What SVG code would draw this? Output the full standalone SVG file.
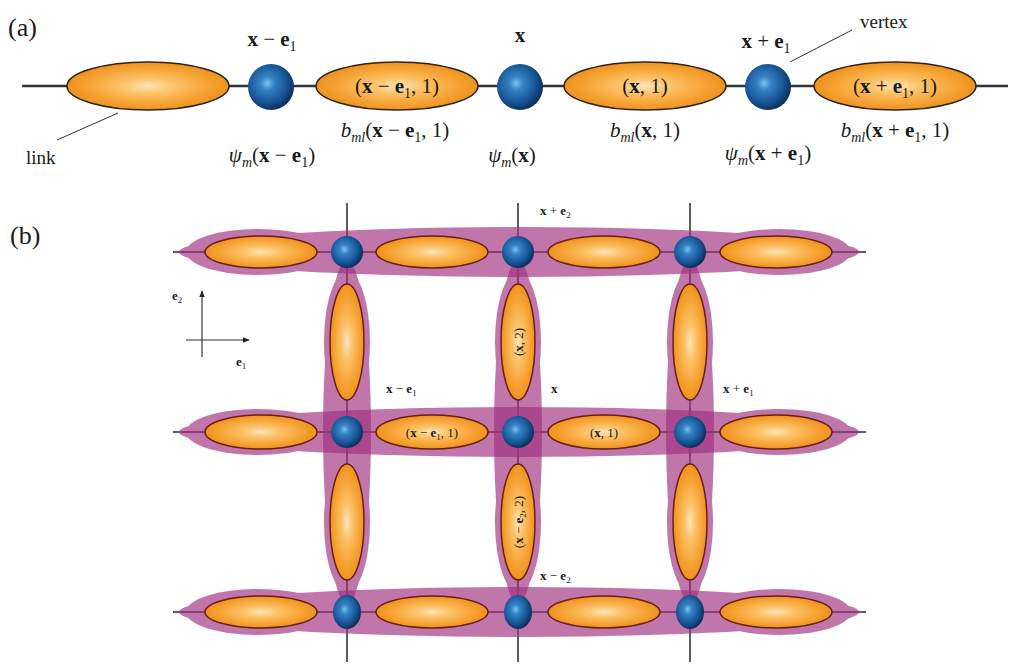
<svg xmlns="http://www.w3.org/2000/svg" width="1025" height="669" viewBox="0 0 1025 669">
<defs>
<radialGradient id="sph" cx="0.42" cy="0.42" r="0.6">
<stop offset="0" stop-color="#7cc2f0"/>
<stop offset="0.25" stop-color="#3682c4"/>
<stop offset="0.7" stop-color="#165596"/>
<stop offset="1" stop-color="#0a2d5a"/>
</radialGradient>
<radialGradient id="org" cx="0.5" cy="0.5" r="0.5">
<stop offset="0" stop-color="#ffe6bd"/>
<stop offset="0.3" stop-color="#fcc46c"/>
<stop offset="0.7" stop-color="#f7a638"/>
<stop offset="1" stop-color="#ee921e"/>
</radialGradient>
<marker id="arr" viewBox="0 0 10 10" refX="9" refY="5" markerWidth="6" markerHeight="6" orient="auto">
<path d="M0,1 L10,5 L0,9 Z" fill="#222"/>
</marker>
<style>
.t{font-family:"Liberation Serif","DejaVu Serif",serif;fill:#1a1a1a}
.a{font-size:21px}
.s{font-size:13px}
.bd{font-weight:bold}
.it{font-style:italic}
.sb{font-size:14px}
.sbs{font-size:9px}
.lnk{fill:url(#org);stroke:#2e2216;stroke-width:1.5}
.lnkb{fill:url(#org);stroke:#6a1e12;stroke-width:1.5}
.sp{fill:url(#sph)}
.wire{stroke:#333;stroke-width:2.5;fill:none}
.wireb{stroke:#2a2a2a;stroke-width:1.5;fill:none}
.lead{stroke:#333;stroke-width:1;fill:none}
.band{fill:#a0307f}
.bg{opacity:0.66}
</style>
</defs>
<rect width="1025" height="669" fill="#fff"/>

<!-- Part labels -->
<text class="t" x="8" y="36" font-size="26">(a)</text>
<text class="t" x="10" y="244" font-size="26">(b)</text>

<!-- connectors -->
<g id="connectors">
<line class="wire" x1="22" y1="86" x2="1008" y2="86"/>
<line class="lead" x1="57" y1="140" x2="118" y2="113"/>
<line class="lead" x1="790" y1="62" x2="852" y2="30"/>
<line class="wireb" x1="173" y1="252" x2="866" y2="252"/>
<line class="wireb" x1="173" y1="432" x2="866" y2="432"/>
<line class="wireb" x1="173" y1="612" x2="866" y2="612"/>
<line class="wireb" x1="347" y1="203" x2="347" y2="662"/>
<line class="wireb" x1="518" y1="203" x2="518" y2="662"/>
<line class="wireb" x1="690" y1="203" x2="690" y2="662"/>
<line x1="202" y1="357" x2="202" y2="291" stroke="#333" stroke-width="1.2" marker-end="url(#arr)"/>
<line x1="186" y1="340" x2="249" y2="340" stroke="#333" stroke-width="1.2" marker-end="url(#arr)"/>
</g>

<!-- Part (a) nodes -->
<g id="a-link0"><ellipse class="lnk" cx="148" cy="86" rx="81" ry="24"/></g>
<g id="a-vertex-xm"><circle class="sp" cx="271" cy="87" r="23"/></g>
<g id="a-link-xm"><ellipse class="lnk" cx="397" cy="86" rx="81" ry="24"/>
<text class="t a" x="397" y="93" text-anchor="middle">(<tspan class="bd">x</tspan> − <tspan class="bd">e</tspan><tspan class="sb" dy="5">1</tspan><tspan dy="-5">, 1)</tspan></text></g>
<g id="a-vertex-x"><circle class="sp" cx="520" cy="87" r="23"/></g>
<g id="a-link-x"><ellipse class="lnk" cx="645" cy="86" rx="81" ry="24"/>
<text class="t a" x="645" y="93" text-anchor="middle">(<tspan class="bd">x</tspan>, 1)</text></g>
<g id="a-vertex-xp"><circle class="sp" cx="768" cy="87" r="23"/></g>
<g id="a-link-xp"><ellipse class="lnk" cx="895" cy="86" rx="81" ry="24"/>
<text class="t a" x="895" y="93" text-anchor="middle">(<tspan class="bd">x</tspan> + <tspan class="bd">e</tspan><tspan class="sb" dy="5">1</tspan><tspan dy="-5">, 1)</tspan></text></g>

<!-- Part (a) labels -->
<g id="a-labels">
<text class="t a" x="272" y="46" text-anchor="middle"><tspan class="bd">x</tspan> − <tspan class="bd">e</tspan><tspan class="sb" dy="5">1</tspan></text>
<text class="t a" x="520" y="42" text-anchor="middle"><tspan class="bd">x</tspan></text>
<text class="t a" x="766" y="48" text-anchor="middle"><tspan class="bd">x</tspan> + <tspan class="bd">e</tspan><tspan class="sb" dy="5">1</tspan></text>
<text class="t" x="860" y="28" font-size="19">vertex</text>
<text class="t" x="26" y="164" font-size="19">link</text>
<text class="t a" x="395" y="137" text-anchor="middle"><tspan class="it">b</tspan><tspan class="sb it" dy="5">ml</tspan><tspan dy="-5">(</tspan><tspan class="bd">x</tspan> − <tspan class="bd">e</tspan><tspan class="sb" dy="5">1</tspan><tspan dy="-5">, 1)</tspan></text>
<text class="t a" x="272" y="162" text-anchor="middle"><tspan class="it">ψ</tspan><tspan class="sb it" dy="5">m</tspan><tspan dy="-5">(</tspan><tspan class="bd">x</tspan> − <tspan class="bd">e</tspan><tspan class="sb" dy="5">1</tspan><tspan dy="-5">)</tspan></text>
<text class="t a" x="512" y="162" text-anchor="middle"><tspan class="it">ψ</tspan><tspan class="sb it" dy="5">m</tspan><tspan dy="-5">(</tspan><tspan class="bd">x</tspan>)</text>
<text class="t a" x="645" y="137" text-anchor="middle"><tspan class="it">b</tspan><tspan class="sb it" dy="5">ml</tspan><tspan dy="-5">(</tspan><tspan class="bd">x</tspan>, 1)</text>
<text class="t a" x="768" y="160" text-anchor="middle"><tspan class="it">ψ</tspan><tspan class="sb it" dy="5">m</tspan><tspan dy="-5">(</tspan><tspan class="bd">x</tspan> + <tspan class="bd">e</tspan><tspan class="sb" dy="5">1</tspan><tspan dy="-5">)</tspan></text>
<text class="t a" x="895" y="137" text-anchor="middle"><tspan class="it">b</tspan><tspan class="sb it" dy="5">ml</tspan><tspan dy="-5">(</tspan><tspan class="bd">x</tspan> + <tspan class="bd">e</tspan><tspan class="sb" dy="5">1</tspan><tspan dy="-5">, 1)</tspan></text>
</g>

<!-- Part (b) bands -->
<g id="bands-h">
<g class="bg">
<ellipse class="band" cx="519" cy="252" rx="340" ry="25"/>
<ellipse class="band" cx="258" cy="252" rx="72" ry="23"/>
<ellipse class="band" cx="779" cy="252" rx="72" ry="23"/>
</g>
<g class="bg">
<ellipse class="band" cx="519" cy="432" rx="340" ry="25"/>
<ellipse class="band" cx="258" cy="432" rx="72" ry="23"/>
<ellipse class="band" cx="779" cy="432" rx="72" ry="23"/>
</g>
<g class="bg">
<ellipse class="band" cx="519" cy="612" rx="340" ry="25"/>
<ellipse class="band" cx="258" cy="612" rx="72" ry="23"/>
<ellipse class="band" cx="779" cy="612" rx="72" ry="23"/>
</g>
</g>
<g id="bands-v">
<g class="bg">
<ellipse class="band" cx="347" cy="432" rx="24" ry="172"/>
<ellipse class="band" cx="347" cy="342" rx="23" ry="70"/>
<ellipse class="band" cx="347" cy="522" rx="23" ry="70"/>
</g>
<g class="bg">
<ellipse class="band" cx="518" cy="432" rx="24" ry="172"/>
<ellipse class="band" cx="518" cy="342" rx="23" ry="70"/>
<ellipse class="band" cx="518" cy="522" rx="23" ry="70"/>
</g>
<g class="bg">
<ellipse class="band" cx="690" cy="432" rx="24" ry="172"/>
<ellipse class="band" cx="690" cy="342" rx="23" ry="70"/>
<ellipse class="band" cx="690" cy="522" rx="23" ry="70"/>
</g>
</g>

<!-- Part (b) horizontal links -->
<g id="b-h-links">
<ellipse class="lnkb" cx="261" cy="252" rx="56" ry="16"/>
<ellipse class="lnkb" cx="432" cy="252" rx="56" ry="16"/>
<ellipse class="lnkb" cx="604" cy="252" rx="56" ry="16"/>
<ellipse class="lnkb" cx="776" cy="252" rx="56" ry="16"/>
<ellipse class="lnkb" cx="261" cy="432" rx="56" ry="17"/>
<ellipse class="lnkb" cx="776" cy="432" rx="56" ry="17"/>
<ellipse class="lnkb" cx="261" cy="612" rx="56" ry="16"/>
<ellipse class="lnkb" cx="432" cy="612" rx="56" ry="16"/>
<ellipse class="lnkb" cx="604" cy="612" rx="56" ry="16"/>
<ellipse class="lnkb" cx="776" cy="612" rx="56" ry="16"/>
</g>
<g id="b-link-xm1">
<ellipse class="lnkb" cx="432" cy="432" rx="56" ry="17"/>
<text class="t s" x="432" y="437" text-anchor="middle">(<tspan class="bd">x</tspan> − <tspan class="bd">e</tspan><tspan class="sbs" dy="3">1</tspan><tspan dy="-3">, 1)</tspan></text>
</g>
<g id="b-link-x1">
<ellipse class="lnkb" cx="604" cy="432" rx="56" ry="17"/>
<text class="t s" x="604" y="437" text-anchor="middle">(<tspan class="bd">x</tspan>, 1)</text>
</g>

<!-- Part (b) vertical links -->
<g id="b-v-links">
<ellipse class="lnkb" cx="347" cy="342" rx="17" ry="58"/>
<ellipse class="lnkb" cx="347" cy="522" rx="17" ry="58"/>
<ellipse class="lnkb" cx="690" cy="342" rx="17" ry="58"/>
<ellipse class="lnkb" cx="690" cy="522" rx="17" ry="58"/>
</g>
<g id="b-link-x2">
<ellipse class="lnkb" cx="518" cy="342" rx="17" ry="58"/>
<text class="t s" transform="translate(523 342) rotate(-90)" text-anchor="middle">(<tspan class="bd">x</tspan>, 2)</text>
</g>
<g id="b-link-xm2">
<ellipse class="lnkb" cx="518" cy="522" rx="17" ry="58"/>
<text class="t s" transform="translate(523 522) rotate(-90)" text-anchor="middle">(<tspan class="bd">x</tspan> − <tspan class="bd">e</tspan><tspan class="sbs" dy="3">2</tspan><tspan dy="-3">, 2)</tspan></text>
</g>

<!-- Part (b) vertices -->
<g id="b-vertices">
<circle class="sp" cx="347" cy="252" r="16"/>
<circle class="sp" cx="518" cy="252" r="16"/>
<circle class="sp" cx="690" cy="252" r="16"/>
<circle class="sp" cx="347" cy="432" r="16"/>
<circle class="sp" cx="518" cy="432" r="16"/>
<circle class="sp" cx="690" cy="432" r="16"/>
<ellipse class="sp" cx="347" cy="612" rx="14" ry="17"/>
<ellipse class="sp" cx="518" cy="612" rx="14" ry="17"/>
<ellipse class="sp" cx="690" cy="612" rx="14" ry="17"/>
</g>

<!-- Part (b) labels -->
<g id="b-labels">
<text class="t s" x="540" y="215"><tspan class="bd">x</tspan> + <tspan class="bd">e</tspan><tspan class="sbs" dy="3">2</tspan></text>
<text class="t s" x="386" y="393"><tspan class="bd">x</tspan> − <tspan class="bd">e</tspan><tspan class="sbs" dy="3">1</tspan></text>
<text class="t s" x="551" y="393"><tspan class="bd">x</tspan></text>
<text class="t s" x="723" y="393"><tspan class="bd">x</tspan> + <tspan class="bd">e</tspan><tspan class="sbs" dy="3">1</tspan></text>
<text class="t s" x="540" y="580"><tspan class="bd">x</tspan> − <tspan class="bd">e</tspan><tspan class="sbs" dy="3">2</tspan></text>
<text class="t s" x="172" y="300"><tspan class="bd">e</tspan><tspan class="sbs" dy="3">2</tspan></text>
<text class="t s" x="236" y="366"><tspan class="bd">e</tspan><tspan class="sbs" dy="3">1</tspan></text>
</g>
</svg>
